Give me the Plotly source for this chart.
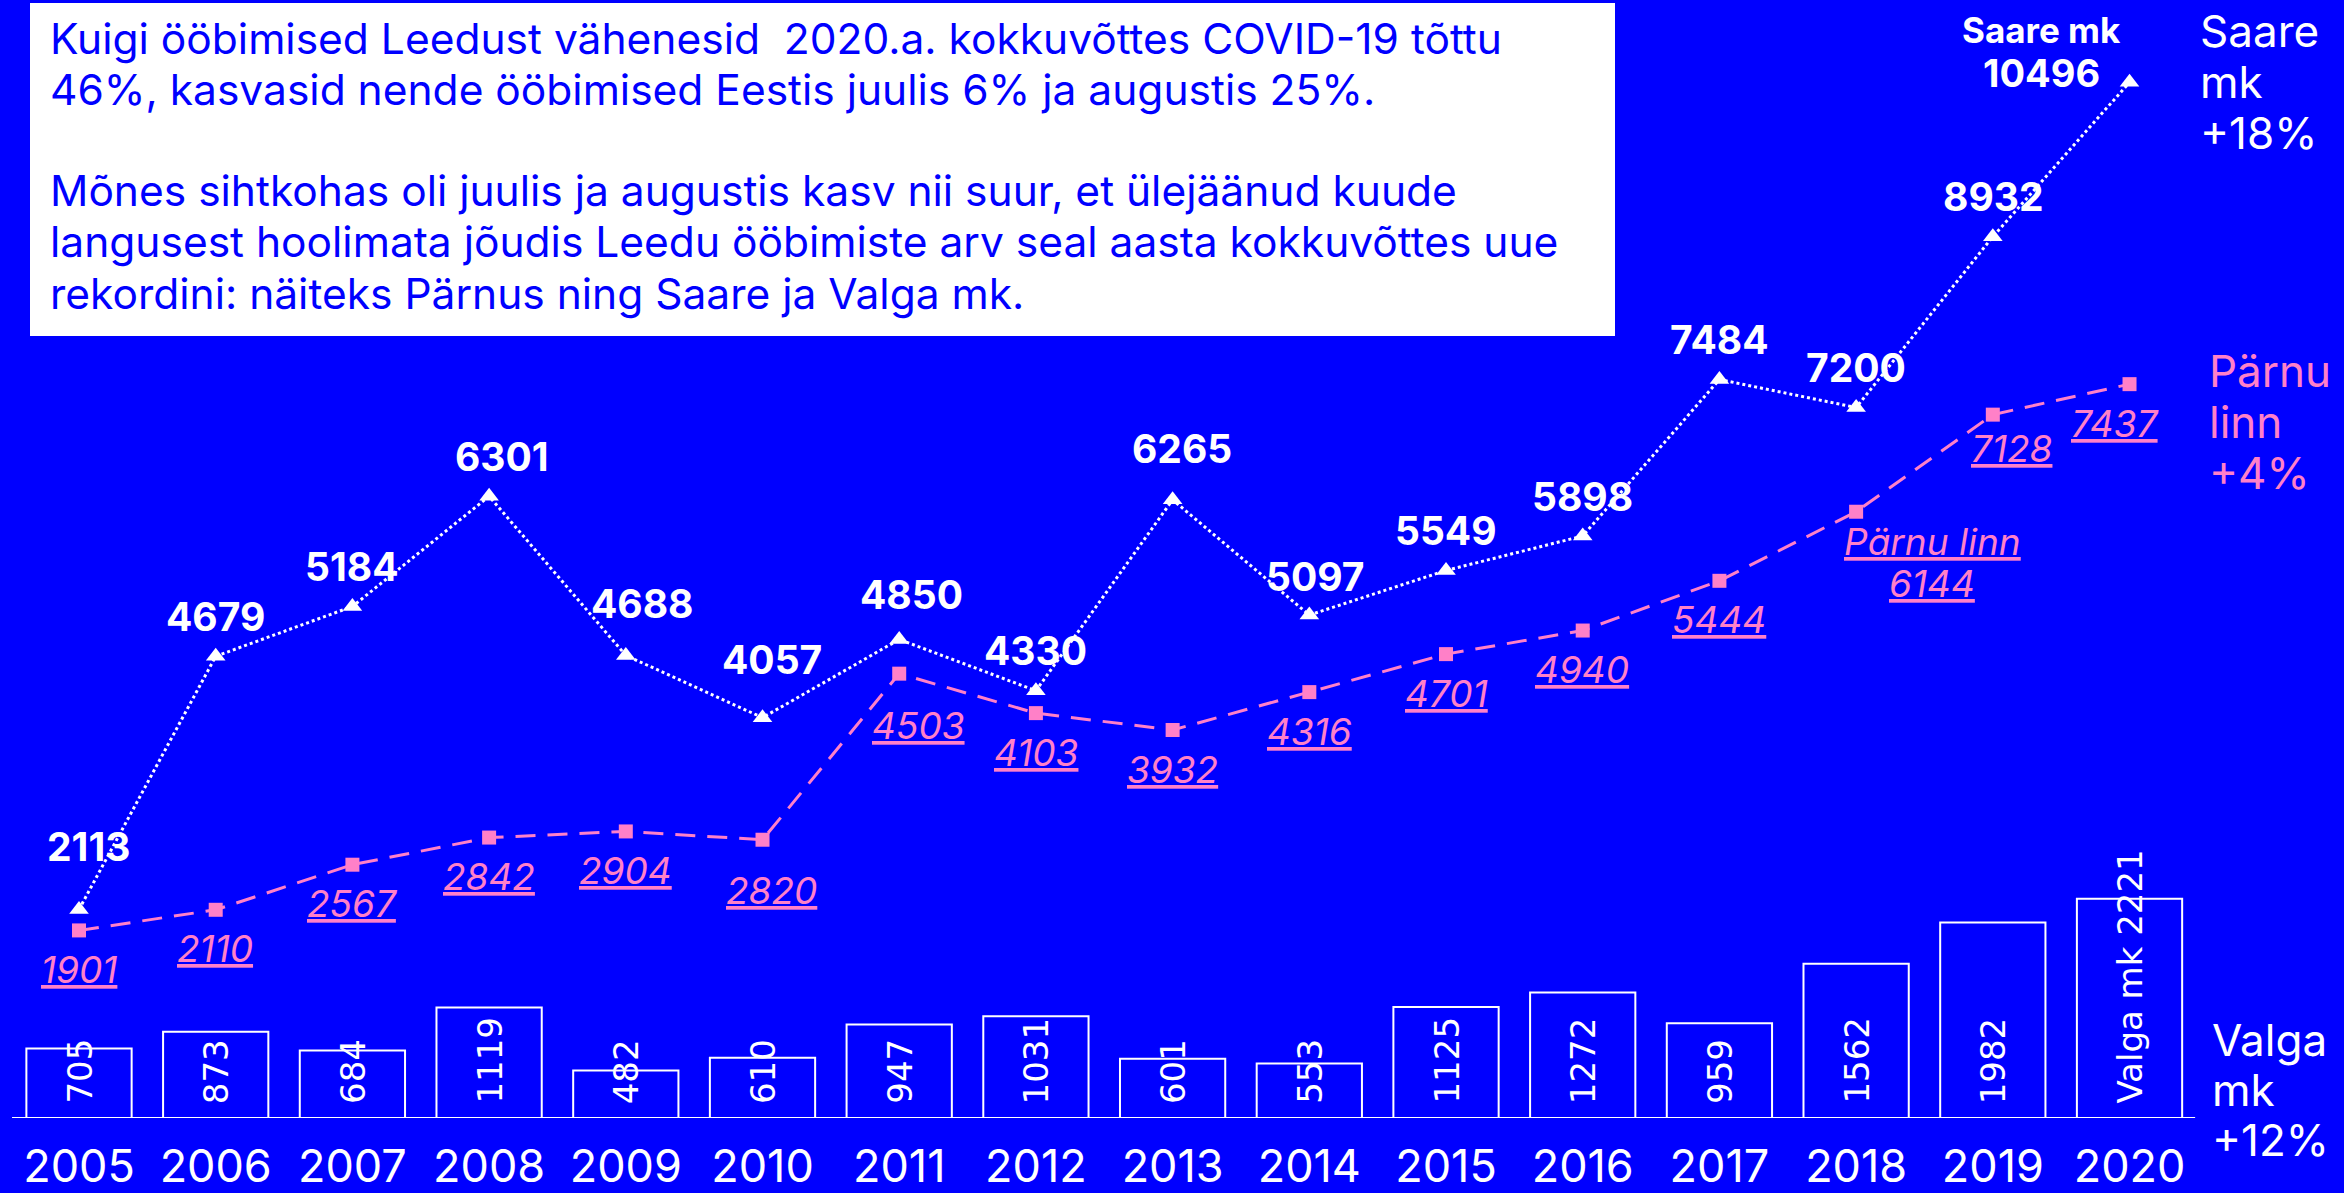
import plotly.graph_objects as go

years = list(range(2005, 2021))
saare = [2113, 4679, 5184, 6301, 4688, 4057, 4850, 4330, 6265, 5097, 5549, 5898, 7484, 7200, 8932, 10496]
parnu = [1901, 2110, 2567, 2842, 2904, 2820, 4503, 4103, 3932, 4316, 4701, 4940, 5444, 6144, 7128, 7437]
valga = [705, 873, 684, 1119, 482, 610, 947, 1031, 601, 553, 1125, 1272, 959, 1562, 1982, 2221]

intro_lines = [
    "Kuigi ööbimised Leedust vähenesid  2020.a. kokkuvõttes COVID-19 tõttu",
    "46%, kasvasid nende ööbimised Eestis juulis 6% ja augustis 25%.",
    "",
    "Mõnes sihtkohas oli juulis ja augustis kasv nii suur, et ülejäänud kuude",
    "langusest hoolimata jõudis Leedu ööbimiste arv seal aasta kokkuvõttes uue",
    "rekordini: näiteks Pärnus ning Saare ja Valga mk.",
]
saare_side = ["Saare", "mk", "+18%"]
parnu_side = ["Pärnu", "linn", "+4%"]
valga_side = ["Valga", "mk", "+12%"]

BG = "#0000ff"
PINK = "#ff80c8"
WHITE = "#ffffff"
FONT = "Inter"
W, H, PLOT_H = 2344, 1193, 1118

fig = go.Figure()

fig.add_trace(go.Bar(
    x=years, y=valga, width=0.77,
    marker=dict(color="rgba(0,0,0,0)", line=dict(color=WHITE, width=2)),
    hoverinfo="skip", showlegend=False,
))
fig.add_trace(go.Scatter(
    x=years, y=parnu, mode="lines+markers",
    line=dict(color=PINK, width=3, dash="20px,12px"),
    marker=dict(symbol="square", size=14, color=PINK),
    showlegend=False,
))
fig.add_trace(go.Scatter(
    x=years, y=saare, mode="lines+markers",
    line=dict(color=WHITE, width=3, dash="dot"),
    marker=dict(symbol="triangle-up", size=17, color=WHITE),
    showlegend=False,
))

annotations = []

# Saare labels
saare_off = {2005: (9, 63), 2008: (13, 40), 2009: (16, 52), 2010: (9, 58), 2011: (12, 45),
             2013: (9, 51), 2014: (6, 39)}
for yr, v in zip(years, saare):
    if yr == years[-1]:
        annotations.append(dict(x=yr, y=v, xref="x", yref="y", text=f"<b>{v}</b>", showarrow=False,
                                xshift=-88, yshift=9, font=dict(family=FONT, size=38, color=WHITE)))
        annotations.append(dict(x=yr, y=v, xref="x", yref="y", text="<b>Saare mk</b>", showarrow=False,
                                xshift=-88, yshift=52, font=dict(family=FONT, size=35, color=WHITE)))
        continue
    xs, ys = saare_off.get(yr, (0, 40))
    annotations.append(dict(x=yr, y=v, xref="x", yref="y", text=f"<b>{v}</b>", showarrow=False,
                            xshift=xs, yshift=ys, font=dict(family=FONT, size=39, color=WHITE)))

# Pärnu labels
parnu_off = {2010: (9, -51), 2011: (19, -52), 2019: (19, -34), 2020: (-15, -39)}
for yr, v in zip(years, parnu):
    if yr == 2018:
        annotations.append(dict(x=yr, y=v, xref="x", yref="y", text="<i><u>Pärnu linn</u></i>", showarrow=False,
                                xshift=76, yshift=-30, font=dict(family=FONT, size=37, color=PINK)))
        annotations.append(dict(x=yr, y=v, xref="x", yref="y", text=f"<i><u>{v}</u></i>", showarrow=False,
                                xshift=76, yshift=-72, font=dict(family=FONT, size=37, color=PINK)))
        continue
    xs, ys = parnu_off.get(yr, (0, -39))
    annotations.append(dict(x=yr, y=v, xref="x", yref="y", text=f"<i><u>{v}</u></i>", showarrow=False,
                            xshift=xs, yshift=ys, font=dict(family=FONT, size=37, color=PINK)))

# Valga bar labels (rotated)
for yr, v in zip(years, valga):
    txt = f"Valga mk {v}" if yr == years[-1] else f"{v}"
    annotations.append(dict(x=yr, y=0, xref="x", yref="y", text=txt, showarrow=False, textangle=-90,
                            xanchor="center", yanchor="bottom", yshift=12,
                            font=dict(family="DejaVu Sans", size=34, color=WHITE)))


def add_line(xpx, ycpx, text, size, color):
    annotations.append(dict(x=xpx / W, y=(PLOT_H - ycpx) / PLOT_H, xref="paper", yref="paper",
                            text=text, showarrow=False, xanchor="left", yanchor="middle", align="left",
                            font=dict(family=FONT, size=size, color=color)))


# Series names on the right
for i, t in enumerate(saare_side):
    add_line(2198, 31 + 51 * i, t, 44, WHITE)
for i, t in enumerate(parnu_side):
    add_line(2207, 371 + 51 * i, t, 44, PINK)
for i, t in enumerate(valga_side):
    add_line(2210, 1040 + 50 * i, t, 44, WHITE)

# Intro text box
for i, t in enumerate(intro_lines):
    if t:
        add_line(48, 38 + 51 * i, t, 42.5, BG)

shapes = [
    dict(type="rect", xref="paper", yref="paper", x0=30 / W, x1=1615 / W,
         y0=(PLOT_H - 336) / PLOT_H, y1=(PLOT_H - 3) / PLOT_H, fillcolor=WHITE, line=dict(width=0), layer="above"),
    dict(type="line", xref="x", yref="y", x0=2004.51, x1=2020.48, y0=0, y1=0,
         line=dict(color=WHITE, width=2)),
]

fig.update_layout(
    width=W, height=H,
    margin=dict(l=0, r=0, t=0, b=H - PLOT_H, autoexpand=False),
    paper_bgcolor=BG, plot_bgcolor=BG,
    xaxis=dict(range=[2004.422, 2021.569], tickvals=years, ticktext=[str(y) for y in years],
               showgrid=False, zeroline=False, showline=False, ticks="", automargin=False,
               tickfont=dict(family=FONT, size=45, color=WHITE), ticklabelstandoff=18, fixedrange=True),
    yaxis=dict(range=[0, 11330], visible=False, showgrid=False, zeroline=False, fixedrange=True,
               automargin=False),
    annotations=annotations, shapes=shapes,
)

fig.write_html("out.html", config={"displayModeBar": False},
               post_script="document.body.style.margin='0';document.body.style.overflow='hidden';")
